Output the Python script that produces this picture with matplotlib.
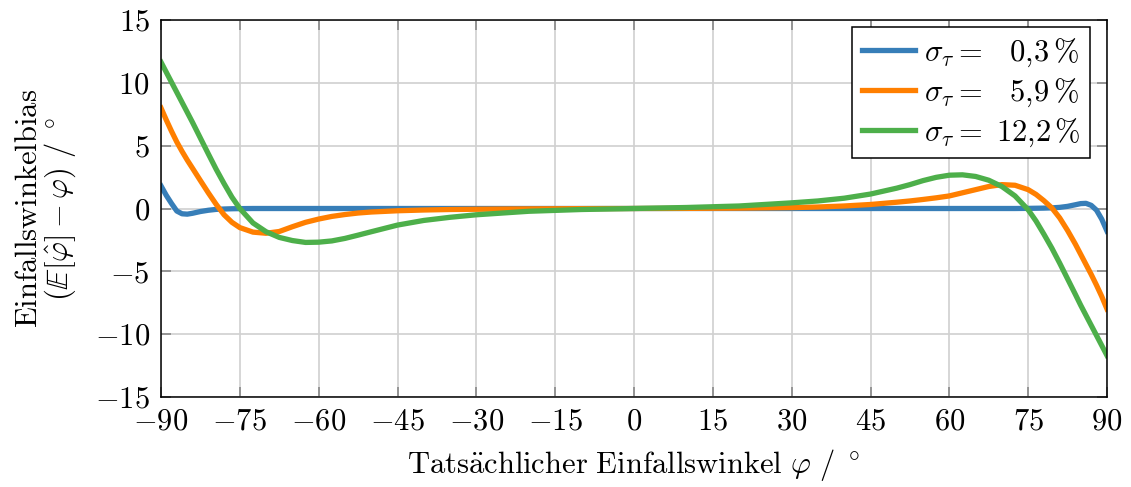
import numpy as np
import matplotlib.pyplot as plt

plt.rcParams['mathtext.fontset'] = 'cm'
plt.rcParams['font.family'] = 'serif'
plt.rcParams['font.serif'] = ['cmr10', 'DejaVu Serif']
plt.rcParams['axes.formatter.use_mathtext'] = True
plt.rcParams['font.size'] = 22

# Einfallswinkel (Grad) und Bias je Streuung
phi = [-90, -89, -88, -87, -86, -85, -84, -82.5, -81, -79.5, -78, -76.5, -75,
       -72.5, -70, -67.5, -65, -62.5, -60, -57.5, -55, -52.5, -50,
       -45, -40, -35, -30, -20, -10, 0, 10, 20, 30, 35, 40, 45,
       50, 52.5, 55, 57.5, 60, 62.5, 65, 67.5, 70, 72.5,
       75, 76.5, 78, 79.5, 81, 82.5, 84, 85, 86, 87, 88, 89, 90]

bias_03 = [1.8, 1.05, 0.4, -0.2, -0.42, -0.45, -0.38, -0.24, -0.14, -0.07, -0.04, -0.02, -0.01,
           0, 0, 0, 0, 0, 0, 0, 0, 0, 0,
           0, 0, 0, 0, 0, 0, 0, 0, 0, 0, 0, 0, 0,
           0, 0, 0, 0, 0, 0, 0, 0, 0, 0,
           0.01, 0.02, 0.03, 0.05, 0.09, 0.17, 0.3, 0.39, 0.41, 0.25, -0.13, -0.85, -1.8]

bias_59 = [8.0, 7.05, 6.15, 5.3, 4.55, 3.85, 3.2, 2.22, 1.25, 0.33, -0.5, -1.1, -1.52,
           -1.88, -1.97, -1.83, -1.45, -1.1, -0.84, -0.63, -0.48, -0.36, -0.28,
           -0.18, -0.12, -0.08, -0.06, -0.03, -0.01, 0, 0.01, 0.03, 0.07, 0.12, 0.2, 0.32,
           0.5, 0.6, 0.72, 0.85, 1.0, 1.25, 1.5, 1.75, 1.9, 1.85,
           1.5, 1.12, 0.62, 0.05, -0.75, -1.75, -2.85, -3.65, -4.45, -5.25, -6.1, -7.0, -8.0]

bias_122 = [11.65, 10.85, 10.05, 9.25, 8.45, 7.65, 6.85, 5.6, 4.35, 3.12, 1.98, 0.9, 0.0,
            -1.15, -1.85, -2.3, -2.55, -2.7, -2.68, -2.58, -2.38, -2.12, -1.85,
            -1.32, -0.95, -0.7, -0.5, -0.22, -0.08, 0, 0.08, 0.2, 0.45, 0.6, 0.82, 1.15,
            1.62, 1.9, 2.22, 2.48, 2.65, 2.68, 2.55, 2.25, 1.75, 1.0,
            -0.1, -1.0, -2.05, -3.15, -4.35, -5.6, -6.85, -7.7, -8.5, -9.3, -10.1, -10.9, -11.7]

labels = [r'$\sigma_\tau =\ \enspace 0{,}3\,\%$',
          r'$\sigma_\tau =\ \enspace 5{,}9\,\%$',
          r'$\sigma_\tau =\ 12{,}2\,\%$']
colors = ['#377eb8', '#ff7f00', '#4daf4a']
xticks = np.arange(-90, 91, 15)
yticks = np.arange(-15, 16, 5)

fig = plt.figure(figsize=(11.31, 4.87), dpi=100)
ax = fig.add_axes([161 / 1131, 1 - 397 / 487, 946 / 1131, 377 / 487])

for y, c, lab in zip([bias_03, bias_59, bias_122], colors, labels):
    ax.plot(phi, y, color=c, lw=3.8, label=lab, solid_joinstyle='round')

ax.set_xlim(-90, 90)
ax.set_ylim(-15, 15)
ax.set_xticks(xticks)
ax.set_yticks(yticks)
ax.grid(True, color='#d0d0d0', lw=1.2)
ax.set_axisbelow(True)
ax.tick_params(direction='in', top=True, right=True, length=7, width=1.2,
               color='#888888', pad=8, labelsize=22)
for s in ax.spines.values():
    s.set_linewidth(1.1)

ax.set_xlabel(r'$\mathrm{Tats\ddot{a}chlicher\ Einfallswinkel}\ \varphi\ /\ ^\circ$',
              fontsize=22, labelpad=8)
ax.set_ylabel('$\\mathrm{Einfallswinkelbias}$\n'
              r'$(\mathbb{E}[\hat{\varphi}] - \varphi)\ /\ ^\circ$',
              fontsize=22, labelpad=12, linespacing=1.0)

leg = ax.legend(loc='upper right', bbox_to_anchor=(1090 / 1131, 1 - 27 / 487),
                bbox_transform=fig.transFigure, borderaxespad=0, fancybox=False,
                framealpha=1, edgecolor='black', fontsize=22, handlelength=1.75,
                handletextpad=0.3, labelspacing=0.25, borderpad=0.3)
leg.get_frame().set_linewidth(1.1)

fig.savefig('out.png', dpi=100)
